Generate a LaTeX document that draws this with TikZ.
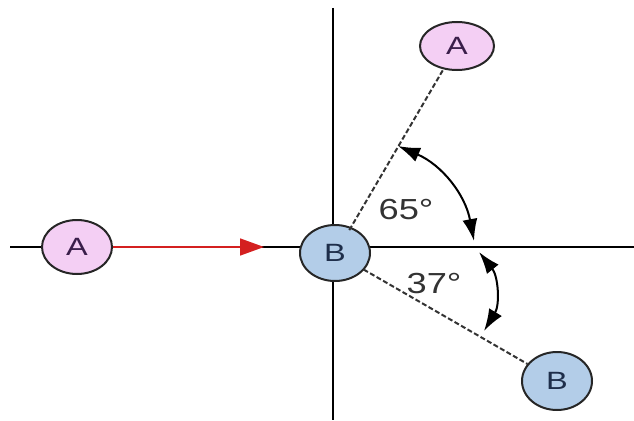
\documentclass[tikz,border=0pt]{standalone}
\usepackage{fontspec}
\setmainfont{Liberation Sans}
\usetikzlibrary{shapes.geometric,arrows.meta}
\definecolor{pinkfill}{HTML}{F4CFF4}
\definecolor{bluefill}{HTML}{B3CDE8}
\definecolor{purptext}{HTML}{3A1E4A}
\definecolor{navytext}{HTML}{1E2E4A}
\definecolor{arrred}{HTML}{D42020}
\tikzset{
  ballA/.style={ellipse,draw=black!85,line width=2pt,fill=pinkfill,text=purptext,
    font=\fontsize{25}{25}\selectfont,inner sep=0pt},
  ballB/.style={ellipse,draw=black!85,line width=2pt,fill=bluefill,text=navytext,
    font=\fontsize{25}{25}\selectfont,inner sep=0pt},
  axis/.style={line width=2.2pt,black},
  dashline/.style={dashed,dash pattern=on 5pt off 2.5pt,line width=2pt,black!80},
  anglearrow/.style={line width=2pt,black,{Latex[length=22pt,width=15pt]}-{Latex[length=22pt,width=15pt]}},
  anglelabel/.style={font=\fontsize{29}{29}\selectfont,text=black!80,inner sep=0pt},
}
\begin{document}
\begin{tikzpicture}[x=1pt,y=-1pt]
\useasboundingbox (0,0) rectangle (634,420);
% axes
\coordinate (hl) at (10,247);
\coordinate (hr) at (634,247);
\coordinate (vt) at (333,8);
\coordinate (vb) at (333,420);
\draw[axis] (hl) -- (hr);
\draw[axis] (vt) -- (vb);
% nodes
\node[ballA,minimum width=70pt,minimum height=54pt] (A1) at (77,247) {\scalebox{1.3}[1]{A}};
\node[ballA,minimum width=74pt,minimum height=48pt] (A2) at (457,46) {\scalebox{1.3}[1]{A}};
\node[ballB,minimum width=70pt,minimum height=56pt] (B1) at (335,253) {\scalebox{1.3}[1]{B}};
\node[ballB,minimum width=70pt,minimum height=58pt] (B2) at (557,381) {\scalebox{1.3}[1]{B}};
% red arrow
\coordinate (tip) at (264,247);
\draw[arrred,line width=1.6pt,-{Triangle[length=24pt,width=17pt]}] (A1.east) -- (tip);
% dashed lines
\draw[dashline] (B1) ++(58:27pt) -- (A2);
\draw[dashline] (B1) ++(-30:33pt) -- (B2);
% angle arcs
\coordinate (u1) at (398,146);
\coordinate (u2) at (474,241);
\coordinate (l1) at (479,252);
\coordinate (l2) at (484,331);
\draw[anglearrow] (u1) to[bend left=28] (u2);
\draw[anglearrow] (l1) to[bend left=35] (l2);
% labels
\node[anglelabel] (t65) at (406,210) {\scalebox{1.25}[1]{65°}};
\node[anglelabel] (t37) at (434,284) {\scalebox{1.25}[1]{37°}};
\end{tikzpicture}
\end{document}
